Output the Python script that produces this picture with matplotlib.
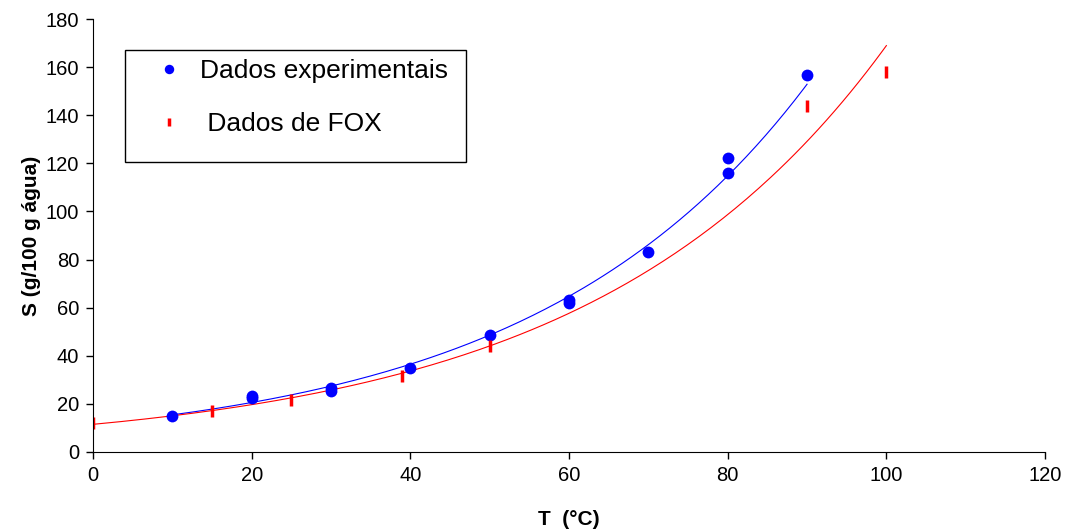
import numpy as np
import matplotlib.pyplot as plt
from matplotlib.patches import Rectangle

plt.rcParams['font.family'] = ['Liberation Sans', 'DejaVu Sans']

# Dados experimentais
t_exp = [10, 20, 20, 30, 30, 40, 50, 60, 60, 70, 80, 80, 90]
s_exp = [14.8, 22.5, 23.2, 25.2, 26.4, 35.0, 48.8, 62.0, 63.0, 83.3, 115.8, 122.1, 156.8]

# Dados de FOX
t_fox = [0, 15, 25, 39, 50, 90, 100]
s_fox = [12.2, 17.0, 21.5, 31.5, 44.0, 144.0, 157.8]

# ajuste exponencial S = a*exp(b*T) (regressão em ln S)
def ajuste_exp(t, s):
    b, ln_a = np.polyfit(t, np.log(s), 1)
    return np.exp(ln_a), b

a_e, b_e = ajuste_exp(t_exp, s_exp)
a_f, b_f = ajuste_exp(t_fox, s_fox)
tt_e = np.linspace(min(t_exp), max(t_exp), 200)
tt_f = np.linspace(min(t_fox), max(t_fox), 200)

fig = plt.figure(figsize=(10.68, 5.31), dpi=100)
ax = fig.add_axes([0.0871, 0.1488, 0.8914, 0.8154])

ax.plot(tt_e, a_e*np.exp(b_e*tt_e), color='blue', lw=0.8)
ax.plot(tt_f, a_f*np.exp(b_f*tt_f), color='red', lw=0.8)

ax.plot(t_exp, s_exp, 'o', color='blue', markersize=8.5, markeredgewidth=0,
        label='Dados experimentais')
ax.plot(t_fox, s_fox, '|', color='red', markersize=8, markeredgewidth=2.5,
        label=' Dados de FOX')

ax.set_xlim(0, 120)
ax.set_ylim(0, 180)
ax.set_xticks(np.arange(0, 121, 20))
ax.set_yticks(np.arange(0, 181, 20))
ax.tick_params(direction='out', length=5, width=1, labelsize=14.5, pad=5)
ax.spines['top'].set_visible(False)
ax.spines['right'].set_visible(False)

ax.set_xlabel('T  (°C)', fontsize=15, fontweight='bold', labelpad=18)
ax.set_ylabel('S (g/100 g água)', fontsize=15, fontweight='bold', labelpad=3)

# caixa da legenda
fig.patches.append(Rectangle((0.117, 0.695), 0.3193, 0.211, transform=fig.transFigure,
                             fill=False, edgecolor='black', lw=1))
ax.legend(loc='upper left', bbox_to_anchor=(156/1068, (531-59)/531),
          bbox_transform=fig.transFigure, frameon=False, fontsize=19,
          borderpad=0, borderaxespad=0, handlelength=1.0, handletextpad=0.67,
          labelspacing=1.1, markerscale=0.8)

fig.savefig('out.png', dpi=100)
